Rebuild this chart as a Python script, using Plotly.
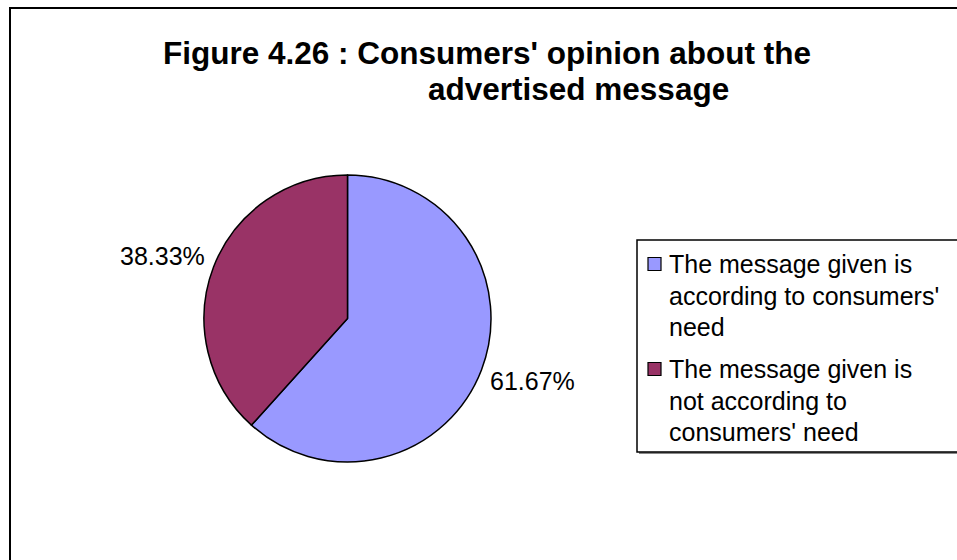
import math
import plotly.graph_objects as go

# Survey result: opinion about the advertised message
labels = [
    "The message given is<br>according to consumers'<br>need",
    "The message given is<br>not according to<br>consumers' need",
]
shares = [61.67, 38.33]
colors = ["#9999FF", "#993366"]

title_line1 = "Figure 4.26 : Consumers' opinion about the"
title_line2 = "advertised message"

W, H = 957, 560
FONT = "Liberation Sans, Arial, sans-serif"


def px_x(x):
    return x / W


def px_y(y):
    return 1 - y / H


# pie geometry in pixels
cx, cy, r = 347.5, 318.5, 143.5

fig = go.Figure(
    go.Pie(
        labels=labels,
        values=shares,
        sort=False,
        direction="clockwise",
        rotation=0,
        marker=dict(colors=colors, line=dict(color="black", width=1.5)),
        textinfo="none",
        domain=dict(x=[px_x(cx - r), px_x(cx + r)], y=[px_y(cy + r), px_y(cy - r)]),
        hoverinfo="label+percent",
        showlegend=False,
    )
)

annotations = [
    dict(text="<b>" + title_line1 + "</b>", x=px_x(161), y=px_y(53),
         xref="paper", yref="paper", xanchor="left", yanchor="middle",
         showarrow=False, font=dict(family=FONT, size=31.5, color="black")),
    dict(text="<b>" + title_line2 + "</b>", x=px_x(426), y=px_y(89),
         xref="paper", yref="paper", xanchor="left", yanchor="middle",
         showarrow=False, font=dict(family=FONT, size=31.5, color="black")),
]
shapes = [
    # chart frame
    dict(type="rect", xref="paper", yref="paper",
         x0=px_x(10), y0=px_y(8), x1=1.05, y1=-0.05,
         line=dict(color="black", width=2), fillcolor="rgba(0,0,0,0)", layer="below"),
]

# percentage labels just outside each slice, at the slice's mid-angle
total = sum(shares)
cum = 0.0
for v in shares:
    theta = math.radians(360.0 * (cum + v / 2) / total)  # clockwise from 12 o'clock
    cum += v
    sx, sy = math.sin(theta), math.cos(theta)
    lx = cx + sx * (r + 7)
    ly = cy - sy * (r + 32)
    annotations.append(dict(
        text=f"{v:.2f}%", x=px_x(lx), y=px_y(ly), xref="paper", yref="paper",
        xanchor="left" if sx > 0 else "right", yanchor="middle", showarrow=False,
        font=dict(family=FONT, size=25, color="black")))

# legend box
leg_left, leg_top, leg_bottom = 637, 240, 452
shapes.append(dict(type="rect", xref="paper", yref="paper",
                   x0=px_x(leg_left + 2), y0=px_y(leg_bottom + 2), x1=1.05, y1=px_y(leg_bottom),
                   line=dict(width=0), fillcolor="#888888"))
shapes.append(dict(type="rect", xref="paper", yref="paper",
                   x0=px_x(leg_left), y0=px_y(leg_bottom), x1=1.05, y1=px_y(leg_top),
                   line=dict(color="black", width=1.5), fillcolor="white"))

line_step = 31.5
entry_gap = 10.5
y = 264.0
for lab, col in zip(labels, colors):
    shapes.append(dict(type="rect", xref="paper", yref="paper",
                       x0=px_x(648), x1=px_x(661), y0=px_y(y + 6.5), y1=px_y(y - 6.5),
                       line=dict(color="black", width=1.2), fillcolor=col))
    for line in lab.split("<br>"):
        annotations.append(dict(
            text=line, x=px_x(667), y=px_y(y), xref="paper", yref="paper",
            xanchor="left", yanchor="middle", showarrow=False,
            font=dict(family=FONT, size=25, color="black")))
        y += line_step
    y += entry_gap

fig.update_layout(
    width=W,
    height=H,
    margin=dict(l=0, r=0, t=0, b=0),
    paper_bgcolor="white",
    showlegend=False,
    annotations=annotations,
    shapes=shapes,
)

fig.write_html("out.html")
